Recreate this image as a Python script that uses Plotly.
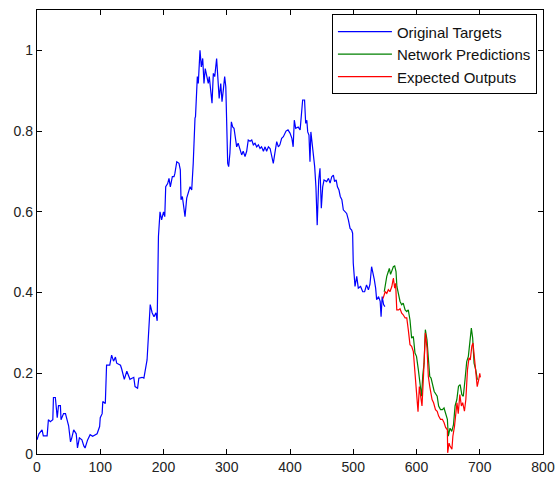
import plotly.graph_objects as go

# Original Targets (blue)
blue_x = [0, 3, 8, 10, 16, 18, 21, 25, 26, 29, 32, 34, 37, 38, 42, 45, 50, 53, 55, 58,
          62, 64, 67, 71, 74, 76, 80, 84, 88, 95, 99, 100, 103, 104, 108, 110, 115, 118, 121, 124,
          126, 132, 134, 138, 142, 147, 153, 155, 159, 161, 166, 169, 174, 179, 182, 185, 188, 190, 192, 194.5,
          197, 200, 202, 203.5, 206.6, 208.7, 210.8, 214, 216.6, 218, 221, 224.5, 226.6, 227.7, 229.8, 231.4, 234, 236.7, 239, 242,
          244.6, 247, 249.8, 250.6, 253.5, 255, 257.7, 259.8, 262, 264, 266, 268, 270.8, 272.4, 274.6, 276.7, 278.8, 281, 284, 286,
          288, 290.5, 292.5, 294.6, 296.7, 298.5, 300, 301.5, 303, 305, 307.3, 309.4, 311.5, 313.5, 315.7, 318, 321, 323.6, 326, 328.9,
          331.5, 334, 336.8, 339.5, 342, 344.7, 347.3, 350, 352.6, 355, 358, 360.6, 363, 365.9, 368.5, 371, 373.6, 376, 379, 381.6,
          384, 386.8, 389.5, 393.7, 396.8, 400, 403, 405, 406.8, 409, 413, 416, 417.4, 420, 423, 424.8, 426.6, 428, 430, 431.6,
          433, 435, 437, 439, 441, 443, 445.4, 447.4, 449.5, 451.7, 453.8, 458, 460.8, 463.4, 466, 468.6, 470.5, 473, 475, 477.4,
          479.5, 482, 484.3, 487, 489.6, 492.3, 495, 497.5, 499, 500, 502.8, 505.5, 508, 511.6, 515, 518, 521, 524, 526.4, 529,
          531, 533.3, 535.4, 537, 540, 542.6, 544, 545.7, 548, 550]
blue_y = [0.035, 0.05, 0.06, 0.045, 0.045, 0.085, 0.08, 0.085, 0.14, 0.14, 0.09, 0.12, 0.12, 0.085, 0.10, 0.10, 0.07, 0.03, 0.04, 0.06,
          0.05, 0.015, 0.04, 0.035, 0.02, 0.015, 0.035, 0.048, 0.044, 0.05, 0.068, 0.09, 0.10, 0.13, 0.125, 0.22, 0.22, 0.245, 0.23, 0.24,
          0.225, 0.22, 0.21, 0.185, 0.205, 0.185, 0.19, 0.167, 0.163, 0.188, 0.19, 0.188, 0.233, 0.37, 0.35, 0.34, 0.35, 0.33, 0.539, 0.60,
          0.58, 0.60, 0.588, 0.662, 0.67, 0.683, 0.662, 0.687, 0.687, 0.695, 0.724, 0.72, 0.704, 0.63, 0.638, 0.613, 0.588, 0.634, 0.646, 0.662,
          0.654, 0.72, 0.832, 0.836, 0.935, 0.918, 1.0, 0.959, 0.98, 0.918, 0.955, 0.935, 0.918, 0.935, 0.893, 0.869, 0.943, 0.935, 0.98, 0.918,
          0.881, 0.918, 0.873, 0.902, 0.935, 0.91, 0.786, 0.72, 0.712, 0.745, 0.823, 0.81, 0.807, 0.778, 0.761, 0.77, 0.757, 0.741, 0.75, 0.737,
          0.75, 0.778, 0.775, 0.778, 0.766, 0.77, 0.761, 0.766, 0.757, 0.761, 0.75, 0.761, 0.75, 0.761, 0.757, 0.741, 0.72, 0.745, 0.774, 0.761,
          0.766, 0.782, 0.786, 0.80, 0.803, 0.795, 0.782, 0.761, 0.827, 0.807, 0.81, 0.803, 0.836, 0.877, 0.877, 0.819, 0.827, 0.798, 0.79, 0.724,
          0.798, 0.765, 0.75, 0.712, 0.662, 0.567, 0.679, 0.708, 0.609, 0.662, 0.679, 0.675, 0.683, 0.671, 0.687, 0.691, 0.675, 0.679, 0.662, 0.654,
          0.638, 0.63, 0.605, 0.60, 0.596, 0.58, 0.559, 0.555, 0.547, 0.473, 0.415, 0.44, 0.411, 0.415, 0.402, 0.402, 0.419, 0.407, 0.42, 0.464,
          0.452, 0.432, 0.411, 0.382, 0.39, 0.378, 0.34, 0.39, 0.37, 0.365]

# Network Predictions (green)
green_x = [549, 553, 555.5, 557, 559, 561.6, 563.4, 565.5, 567.6, 569, 571.6, 574, 576.6, 579, 582, 584.6, 587, 589.7, 592.3, 595,
           597.6, 600, 602.9, 605.5, 608, 610, 612, 614, 616.6, 618.7, 621, 623, 625, 628, 632.7, 635, 638, 640.9, 643.5, 646,
           648.8, 650.3, 653, 655.8, 658.5, 661, 663.8, 666.4, 669, 671.7, 674, 676.7, 679.4, 682, 684.6, 686.7, 688.8, 691, 693.6, 696.3]
green_y = [0.402, 0.44, 0.452, 0.46, 0.445, 0.456, 0.464, 0.466, 0.452, 0.415, 0.39, 0.378, 0.37, 0.374, 0.357, 0.353, 0.357, 0.332, 0.287, 0.291,
           0.25, 0.242, 0.209, 0.167, 0.143, 0.196, 0.225, 0.308, 0.283, 0.238, 0.192, 0.188, 0.172, 0.155, 0.143, 0.119, 0.11, 0.11, 0.114, 0.098,
           0.086, 0.044, 0.064, 0.056, 0.073, 0.119, 0.135, 0.168, 0.172, 0.147, 0.143, 0.184, 0.229, 0.242, 0.283, 0.312, 0.287, 0.225, 0.209, 0.184]

# Expected Outputs (red)
red_x = [547, 550.5, 553, 555.5, 558, 561, 563.4, 565.5, 567, 568.8, 571.6, 574, 576.6, 579, 582, 584.6, 587, 589.7, 592.3, 595,
         597.6, 600, 602.4, 604.5, 606.6, 608.7, 611, 612.6, 614, 616.6, 618.7, 621, 624.6, 627, 630, 632.7, 635, 638, 640.9, 643.5,
         646, 648.8, 649.3, 651.5, 653, 656, 657.5, 660, 662, 664, 666, 668.5, 671, 673, 675.8, 678, 680.6, 683, 685, 687.5,
         689.3, 691.5, 693.6, 696, 698.4, 700, 701]
red_y = [0.385, 0.402, 0.398, 0.407, 0.402, 0.415, 0.436, 0.411, 0.423, 0.357, 0.357, 0.36, 0.349, 0.345, 0.337, 0.337, 0.308, 0.271, 0.267, 0.254,
         0.201, 0.16, 0.105, 0.167, 0.143, 0.119, 0.192, 0.242, 0.30, 0.263, 0.192, 0.167, 0.135, 0.127, 0.11, 0.106, 0.094, 0.086, 0.086, 0.078,
         0.066, 0.06, 0.003, 0.027, 0.02, 0.012, 0.044, 0.068, 0.094, 0.127, 0.10, 0.147, 0.119, 0.127, 0.106, 0.135, 0.209, 0.238, 0.233, 0.267,
         0.275, 0.233, 0.192, 0.167, 0.184, 0.2, 0.19]

x_ticks = [0, 100, 200, 300, 400, 500, 600, 700, 800]
y_ticks = [0, 0.2, 0.4, 0.6, 0.8, 1]
y_tick_labels = ["0", "0.2", "0.4", "0.6", "0.8", "1"]

fig = go.Figure()
fig.add_trace(go.Scatter(x=blue_x, y=blue_y, mode="lines", name="Original Targets",
                         line=dict(color="#0000FF", width=1.2)))
fig.add_trace(go.Scatter(x=green_x, y=green_y, mode="lines", name="Network Predictions",
                         line=dict(color="#008000", width=1.2)))
fig.add_trace(go.Scatter(x=red_x, y=red_y, mode="lines", name="Expected Outputs",
                         line=dict(color="#FF0000", width=1.2)))

axis_common = dict(showgrid=False, zeroline=False, showline=True, linecolor="#000000", linewidth=1.3,
                   mirror="ticks", ticks="inside", ticklen=5, tickcolor="#000000", automargin=False,
                   tickfont=dict(family="Liberation Sans, Arial", size=14, color="#222222"))

fig.update_layout(
    width=555, height=477,
    margin=dict(l=37, r=12, t=10, b=23, autoexpand=False),
    paper_bgcolor="white", plot_bgcolor="white",
    xaxis=dict(range=[0, 800], tickvals=x_ticks, ticktext=[str(v) for v in x_ticks], **axis_common),
    yaxis=dict(range=[0, 1.1], tickvals=y_ticks, ticktext=y_tick_labels, **axis_common),
    legend=dict(x=0.988, y=0.99, xanchor="right", yanchor="top",
                bgcolor="white", bordercolor="#000000", borderwidth=1,
                font=dict(family="Liberation Sans, Arial", size=15, color="#111111"),
                itemwidth=54, tracegroupgap=0),
    showlegend=True,
)

fig.write_html("out.html", config={"displayModeBar": False},
               post_script="document.body.style.margin='0px';")
